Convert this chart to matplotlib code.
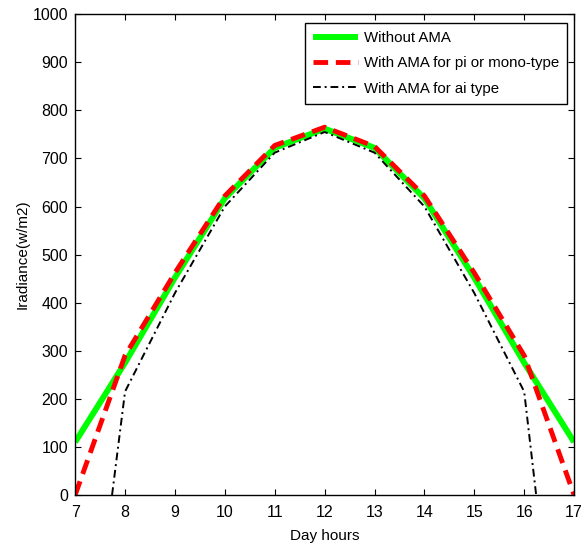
import matplotlib
matplotlib.use("Agg")
import matplotlib.pyplot as plt

plt.rcParams['font.family'] = ['Liberation Sans', 'DejaVu Sans']

hours = [7, 8, 9, 10, 11, 12, 13, 14, 15, 16, 17]
without_ama = [110, 275, 452, 617, 722, 762, 722, 617, 452, 275, 110]
with_ama_pi = [0, 290, 462, 622, 727, 765, 725, 622, 462, 290, 0]
hours_ai = [7.74, 8, 9, 10, 11, 12, 13, 14, 15, 16, 16.24]
with_ama_ai = [0, 215, 420, 600, 712, 755, 712, 600, 420, 215, 0]

fig = plt.figure(figsize=(5.87, 5.46), dpi=100)
ax = fig.add_axes([0.128, 0.0934, 0.850, 0.8806])

ax.plot(hours, without_ama, color='#00ff00', lw=4.3, label='Without AMA', solid_capstyle='butt')
ax.plot(hours, with_ama_pi, color='#ff0000', lw=3.5, ls=(0, (3, 1.6)), label='With AMA for pi or mono-type')
ax.plot(hours_ai, with_ama_ai, color='black', lw=1.4, ls=(0, (4, 2, 1, 2)), label='With AMA for ai type')

ax.set_xlim(7, 17)
ax.set_ylim(0, 1000)
ax.set_xticks(range(7, 18))
ax.set_yticks(range(0, 1001, 100))
ax.tick_params(direction='in', top=True, right=True, labelsize=11.5, length=4)
ax.tick_params(axis='x', pad=7)
ax.tick_params(axis='y', pad=5)
for s in ax.spines.values():
    s.set_linewidth(1.0)

ax.set_xlabel('Day hours', fontsize=11, labelpad=7)
ax.set_ylabel('Iradiance(w/m2)', fontsize=11, labelpad=2)

leg = ax.legend(loc='upper right', fontsize=10.8, frameon=True, fancybox=False,
                edgecolor='black', framealpha=1, handlelength=3.0, handletextpad=0.4,
                labelspacing=0.75, borderpad=0.55, borderaxespad=0.45,
                bbox_to_anchor=(1.0, 0.996))
leg.get_frame().set_linewidth(1.0)

fig.savefig('out.png', dpi=100)
